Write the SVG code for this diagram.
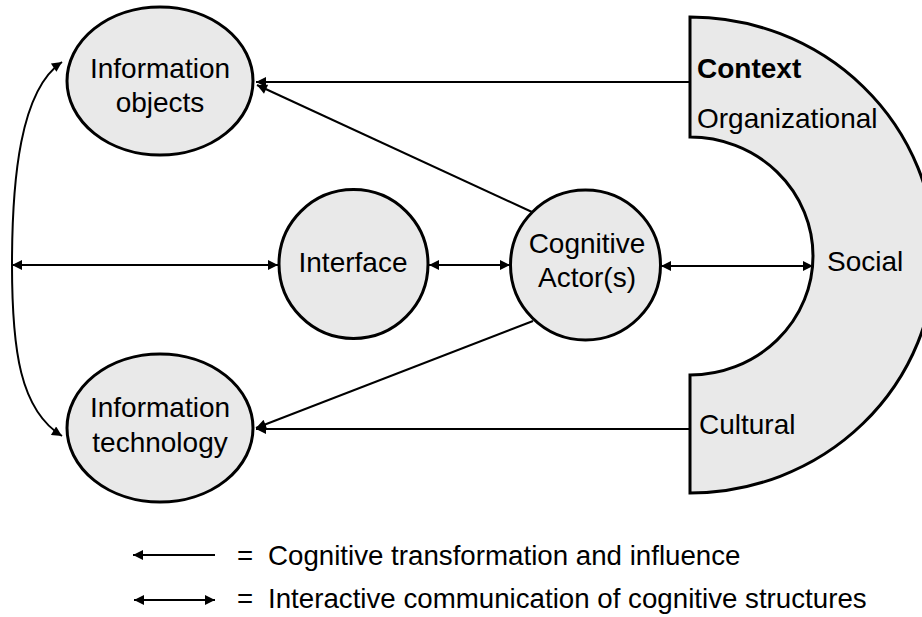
<svg xmlns="http://www.w3.org/2000/svg" width="922" height="617" viewBox="0 0 922 617">
<defs>
<style>
.node{fill:#e9e9e9;stroke:#000;stroke-width:3}
.t{font-family:"Liberation Sans",Arial,sans-serif;font-size:28px;fill:#000}
.l{font-size:27.7px}
.c{text-anchor:middle}
.con{fill:none;stroke:#000;stroke-width:2}
</style>
<marker id="ah" viewBox="0 0 10 10" refX="10" refY="5" markerWidth="12" markerHeight="10" markerUnits="userSpaceOnUse" orient="auto-start-reverse">
<path d="M0,0 L10,5 L0,10 Z" fill="#000"/>
</marker>
</defs>
<rect width="922" height="617" fill="#fff"/>
<g id="context">
<path class="node" d="M690,17 L690,137 A123,119 0 0 1 690,375 L690,493 A245,238 0 0 0 690,17 Z"/>
<text class="t" x="697" y="78" font-weight="bold">Context</text>
<text class="t" x="697" y="128">Organizational</text>
<text class="t" x="827" y="271">Social</text>
<text class="t" x="699" y="434">Cultural</text>
</g>
<g id="connectors">
<path class="con" d="M690,82 L256,82" marker-end="url(#ah)"/>
<path class="con" d="M532,212 L257,85" marker-end="url(#ah)"/>
<path class="con" d="M533,321 L256,428" marker-end="url(#ah)"/>
<path class="con" d="M690,429 L256,429" marker-end="url(#ah)"/>
<path class="con" d="M62,62 C20,90 12,180 12,265 C12,350 20,410 62,436" marker-start="url(#ah)" marker-end="url(#ah)"/>
<path class="con" d="M12,265 L278,265" marker-start="url(#ah)" marker-end="url(#ah)"/>
<path class="con" d="M429,265 L510,265" marker-start="url(#ah)" marker-end="url(#ah)"/>
<path class="con" d="M661,266 L813,266" marker-start="url(#ah)" marker-end="url(#ah)"/>
</g>
<g id="info-objects">
<ellipse class="node" cx="160" cy="81" rx="93" ry="74"/>
<text class="t c" x="160" y="78">Information</text>
<text class="t c" x="160" y="112">objects</text>
</g>
<g id="info-technology">
<ellipse class="node" cx="160" cy="428" rx="93" ry="74"/>
<text class="t c" x="160" y="417">Information</text>
<text class="t c" x="160" y="452">technology</text>
</g>
<g id="interface">
<circle class="node" cx="353.5" cy="264" r="74.5"/>
<text class="t c" x="353" y="272">Interface</text>
</g>
<g id="actor">
<circle class="node" cx="585.5" cy="265" r="75"/>
<text class="t c" x="587" y="253">Cognitive</text>
<text class="t c" x="587" y="287">Actor(s)</text>
</g>
<g id="legend">
<path class="con" d="M215,555 L133,555" marker-end="url(#ah)"/>
<path class="con" d="M134,600 L215,600" marker-start="url(#ah)" marker-end="url(#ah)"/>
<text class="t l" x="237" y="565">=</text>
<text class="t l" x="268" y="565">Cognitive transformation and influence</text>
<text class="t l" x="237" y="608">=</text>
<text class="t l" x="268" y="608">Interactive communication of cognitive structures</text>
</g>
</svg>
